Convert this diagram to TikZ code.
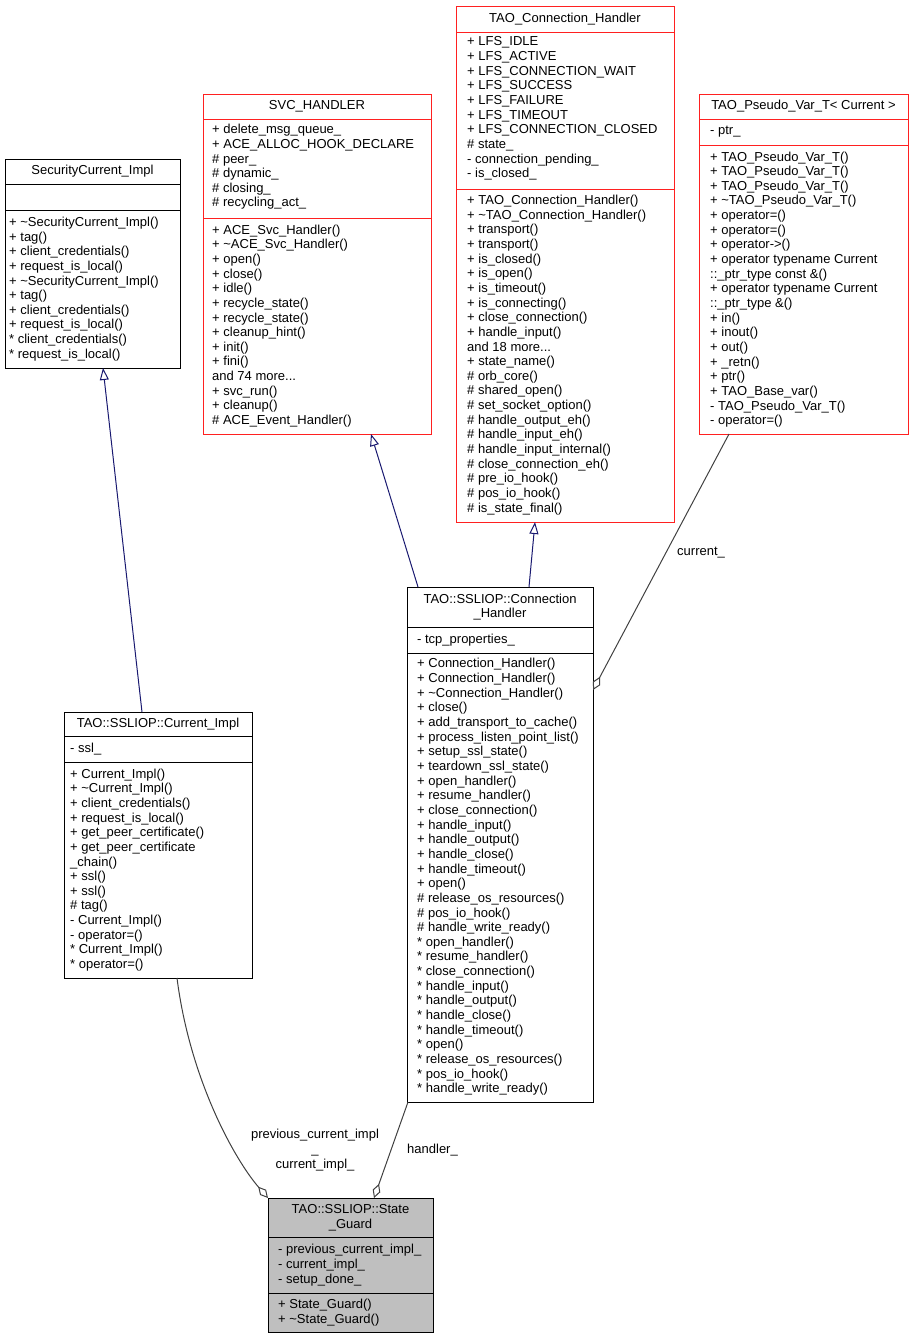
\documentclass[tikz,border=0pt]{standalone}
\usepackage{fontspec}
\setmainfont{Liberation Sans}
\usetikzlibrary{arrows.meta,calc}

\definecolor{edgegray}{HTML}{404040}
\definecolor{inhblue}{HTML}{191970}
\definecolor{boxred}{HTML}{FF2020}
\definecolor{focusgray}{HTML}{BFBFBF}

\begin{document}
\begin{tikzpicture}[x=1pt, y=-1pt, font=\fontsize{13}{14.65}\selectfont,
  cls/.style={draw=black, line width=1pt, anchor=north west, inner sep=0, outer sep=0},
  hdr/.style={inner sep=0, align=center},
  mem/.style={inner sep=0, anchor=west, align=left},
  inh/.style={draw=inhblue, line width=1pt, -{Triangle[open, length=12pt, width=9pt]}},
  agg/.style={draw=edgegray, line width=1pt, -{Diamond[open, length=15pt, width=8pt]}},
  lbl/.style={inner sep=0}]
\useasboundingbox (0,0) rectangle (913,1339);

% SecurityCurrent_Impl
\node[cls, minimum width=175pt, minimum height=209pt] (sci) at (5,159) {};
\draw (5,184) -- (180,184);
\draw (5,210) -- (180,210);
\node[hdr] (scititle) at (92.5,171.5) {SecurityCurrent\_Impl};
\node[mem] (scimeth) at (9,289) {+ \textasciitilde SecurityCurrent\_Impl()\\+ tag()\\+ client\_credentials()\\+ request\_is\_local()\\+ \textasciitilde SecurityCurrent\_Impl()\\+ tag()\\+ client\_credentials()\\+ request\_is\_local()\\* client\_credentials()\\* request\_is\_local()};

% SVC_HANDLER
\node[cls, draw=boxred, minimum width=228pt, minimum height=340pt] (svc) at (203,94) {};
\draw[boxred] (203,119) -- (431,119);
\draw[boxred] (203,218) -- (431,218);
\node[hdr] (svctitle) at (317,106.5) {SVC\_HANDLER};
\node[mem] (svcattr) at (212,167) {+ delete\_msg\_queue\_\\+ ACE\_ALLOC\_HOOK\_DECLARE\\\# peer\_\\\# dynamic\_\\\# closing\_\\\# recycling\_act\_};
\node[mem] (svcmeth) at (212,326) {+ ACE\_Svc\_Handler()\\+ \textasciitilde ACE\_Svc\_Handler()\\+ open()\\+ close()\\+ idle()\\+ recycle\_state()\\+ recycle\_state()\\+ cleanup\_hint()\\+ init()\\+ fini()\\and 74 more...\\+ svc\_run()\\+ cleanup()\\\# ACE\_Event\_Handler()};

% TAO_Connection_Handler
\node[cls, draw=boxred, minimum width=218pt, minimum height=516pt] (tch) at (456,6) {};
\draw[boxred] (456,32) -- (674,32);
\draw[boxred] (456,189) -- (674,189);
\node[hdr] (tchtitle) at (565,19) {TAO\_Connection\_Handler};
\node[mem] (tchattr) at (467,108.5) {+ LFS\_IDLE\\+ LFS\_ACTIVE\\+ LFS\_CONNECTION\_WAIT\\+ LFS\_SUCCESS\\+ LFS\_FAILURE\\+ LFS\_TIMEOUT\\+ LFS\_CONNECTION\_CLOSED\\\# state\_\\- connection\_pending\_\\- is\_closed\_};
\node[mem] (tchmeth) at (467,355) {+ TAO\_Connection\_Handler()\\+ \textasciitilde TAO\_Connection\_Handler()\\+ transport()\\+ transport()\\+ is\_closed()\\+ is\_open()\\+ is\_timeout()\\+ is\_connecting()\\+ close\_connection()\\+ handle\_input()\\and 18 more...\\+ state\_name()\\\# orb\_core()\\\# shared\_open()\\\# set\_socket\_option()\\\# handle\_output\_eh()\\\# handle\_input\_eh()\\\# handle\_input\_internal()\\\# close\_connection\_eh()\\\# pre\_io\_hook()\\\# pos\_io\_hook()\\\# is\_state\_final()};

% TAO_Pseudo_Var_T< Current >
\node[cls, draw=boxred, minimum width=209pt, minimum height=340pt] (pvt) at (699,94) {};
\draw[boxred] (699,119) -- (908,119);
\draw[boxred] (699,145) -- (908,145);
\node[hdr] (pvttitle) at (803.5,106.5) {TAO\_Pseudo\_Var\_T< Current >};
\node[mem] (pvtattr) at (710,132) {- ptr\_};
\node[mem] (pvtmeth) at (710,289.5) {+ TAO\_Pseudo\_Var\_T()\\+ TAO\_Pseudo\_Var\_T()\\+ TAO\_Pseudo\_Var\_T()\\+ \textasciitilde TAO\_Pseudo\_Var\_T()\\+ operator=()\\+ operator=()\\+ operator->()\\+ operator typename Current\\::\_ptr\_type const \&()\\+ operator typename Current\\::\_ptr\_type \&()\\+ in()\\+ inout()\\+ out()\\+ \_retn()\\+ ptr()\\+ TAO\_Base\_var()\\- TAO\_Pseudo\_Var\_T()\\- operator=()};

% TAO::SSLIOP::Connection_Handler
\node[cls, minimum width=186pt, minimum height=515pt] (ch) at (407,587) {};
\draw (407,627) -- (593,627);
\draw (407,653) -- (593,653);
\node[hdr] (chtitle) at (500,607) {TAO::SSLIOP::Connection\\\_Handler};
\node[mem] (chattr) at (417,640) {- tcp\_properties\_};
\node[mem] (chmeth) at (417,877) {+ Connection\_Handler()\\+ Connection\_Handler()\\+ \textasciitilde Connection\_Handler()\\+ close()\\+ add\_transport\_to\_cache()\\+ process\_listen\_point\_list()\\+ setup\_ssl\_state()\\+ teardown\_ssl\_state()\\+ open\_handler()\\+ resume\_handler()\\+ close\_connection()\\+ handle\_input()\\+ handle\_output()\\+ handle\_close()\\+ handle\_timeout()\\+ open()\\\# release\_os\_resources()\\\# pos\_io\_hook()\\\# handle\_write\_ready()\\* open\_handler()\\* resume\_handler()\\* close\_connection()\\* handle\_input()\\* handle\_output()\\* handle\_close()\\* handle\_timeout()\\* open()\\* release\_os\_resources()\\* pos\_io\_hook()\\* handle\_write\_ready()};

% TAO::SSLIOP::Current_Impl
\node[cls, minimum width=188pt, minimum height=266pt] (ci) at (64,712) {};
\draw (64,736) -- (252,736);
\draw (64,762) -- (252,762);
\node[hdr] (cititle) at (158,724) {TAO::SSLIOP::Current\_Impl};
\node[mem] (ciattr) at (70,749) {- ssl\_};
\node[mem] (cimeth) at (70,870) {+ Current\_Impl()\\+ \textasciitilde Current\_Impl()\\+ client\_credentials()\\+ request\_is\_local()\\+ get\_peer\_certificate()\\+ get\_peer\_certificate\\\_chain()\\+ ssl()\\+ ssl()\\\# tag()\\- Current\_Impl()\\- operator=()\\* Current\_Impl()\\* operator=()};

% TAO::SSLIOP::State_Guard
\node[cls, fill=focusgray, minimum width=165pt, minimum height=134pt] (sg) at (268,1198) {};
\draw (268,1237) -- (433,1237);
\draw (268,1293) -- (433,1293);
\node[hdr] (sgtitle) at (350.5,1217.5) {TAO::SSLIOP::State\\\_Guard};
\node[mem] (sgattr) at (278,1265) {- previous\_current\_impl\_\\- current\_impl\_\\- setup\_done\_};
\node[mem] (sgmeth) at (278,1312.5) {+ State\_Guard()\\+ \textasciitilde State\_Guard()};

% inheritance
\draw[inh] ($(ci.north west)+(78,0)$) -- ($(sci.south west)+(98,0)$);
\draw[inh] ($(ch.north west)+(11,0)$) -- ($(svc.south west)+(168,0)$);
\draw[inh] ($(ch.north west)+(122,0)$) -- ($(tch.south west)+(79,0)$);

% usage
\draw[agg] ($(pvt.south west)+(30,0)$) -- ($(ch.north east)+(0,103)$);
\node[lbl, anchor=west] (curlbl) at (677,553) {current\_};
\draw[agg] ($(ci.south west)+(113,0)$) .. controls (190,1080) and (235,1160) .. (sg.north west);
\node[lbl, align=center, font=\fontsize{13}{15}\selectfont] (implbl) at (315,1150) {previous\_current\_impl\\\_\\current\_impl\_};
\draw[agg] ($(ch.south west)+(1,0)$) -- ($(sg.north west)+(106,0)$);
\node[lbl, anchor=west] (hdllbl) at (407,1150) {handler\_};
\end{tikzpicture}
\end{document}
